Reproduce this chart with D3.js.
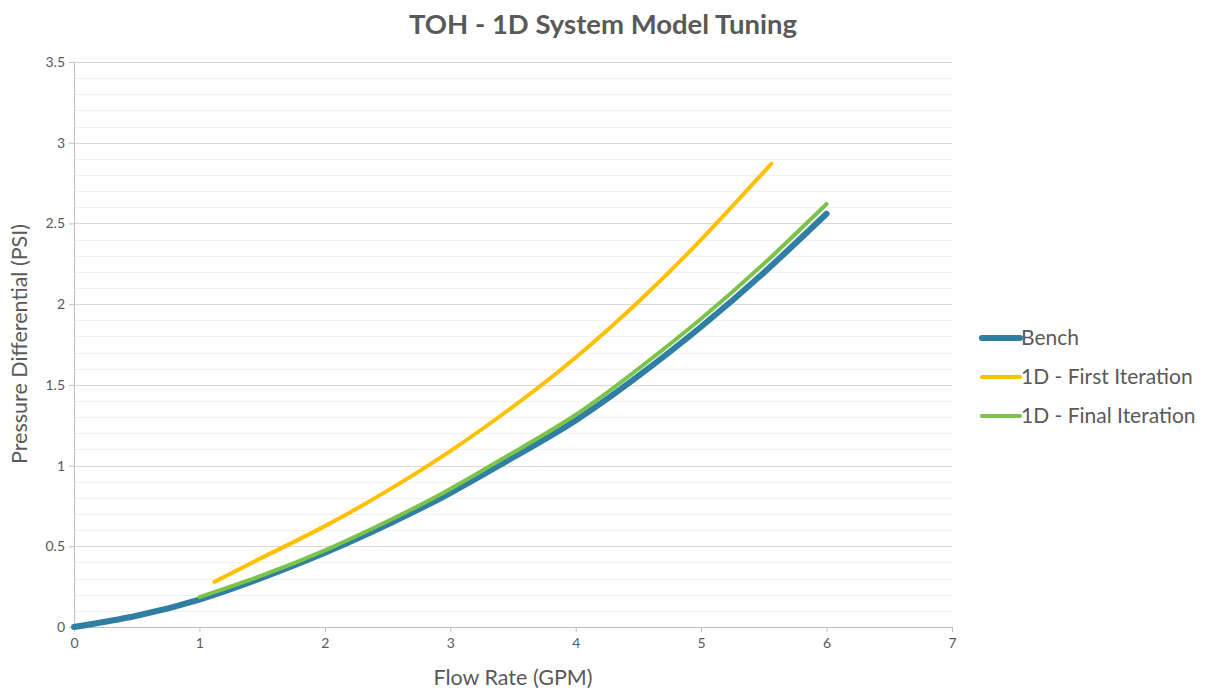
<!DOCTYPE html>
<html>
<head>
<meta charset="utf-8">
<script src="https://cdn.jsdelivr.net/npm/d3@7"></script>
<style>
  body { margin: 0; background: #fff; }
  text { font-family: Lato, "Open Sans", sans-serif; fill: #595959; }
</style>
</head>
<body>
<svg class="chart" width="1213" height="692"></svg>
<script>
const width = 1213;
const height = 692;
const margin = { top: 62, right: 261, bottom: 65, left: 74 };
const graphWidth = width - margin.left - margin.right;
const graphHeight = height - margin.top - margin.bottom;

// values
const benchX = [0, 0.5, 1, 1.5, 2, 2.5, 3, 3.5, 4, 4.5, 5, 5.5, 6];
const benchY = [0, 0.07, 0.17, 0.305, 0.46, 0.635, 0.83, 1.05, 1.28, 1.555, 1.86, 2.195, 2.56];

const firstX = [1.12, 1.5, 2, 2.5, 3, 3.5, 4, 4.5, 5, 5.56];
const firstY = [0.28, 0.43, 0.625, 0.845, 1.09, 1.365, 1.67, 2.015, 2.4, 2.87];

const finalX = [1, 1.5, 2, 2.5, 3, 3.5, 4, 4.5, 5, 5.5, 6];
const finalY = [0.185, 0.32, 0.475, 0.655, 0.855, 1.08, 1.315, 1.6, 1.91, 2.25, 2.62];

const xTicks = [0, 1, 2, 3, 4, 5, 6, 7];
const yTicks = [0, 0.5, 1, 1.5, 2, 2.5, 3, 3.5];

const series = [
  { name: "Bench", xs: benchX, ys: benchY, color: "#2f7ea3", width: 6 },
  { name: "1D - First Iteration", xs: firstX, ys: firstY, color: "#ffc000", width: 4 },
  { name: "1D - Final Iteration", xs: finalX, ys: finalY, color: "#7dc34a", width: 4 }
];

const svg = d3.select(".chart");

const xScale = d3.scaleLinear().domain([0, 7]).range([0, graphWidth]);
const yScale = d3.scaleLinear().domain([0, 3.5]).range([graphHeight, 0]);

const graph = svg.append("g")
  .attr("transform", `translate(${margin.left}, ${margin.top})`);

// minor grid
graph.append("g")
  .selectAll("line")
  .data(d3.range(0, 35).map(i => i / 10))
  .enter()
  .append("line")
  .attr("x1", 0)
  .attr("x2", graphWidth)
  .attr("y1", d => Math.round(yScale(d)) + 0.5)
  .attr("y2", d => Math.round(yScale(d)) + 0.5)
  .attr("stroke", "#f2f2f2");

// major grid
graph.append("g")
  .selectAll("line")
  .data(yTicks.slice(1))
  .enter()
  .append("line")
  .attr("x1", 0)
  .attr("x2", graphWidth)
  .attr("y1", d => Math.round(yScale(d)) + 0.5)
  .attr("y2", d => Math.round(yScale(d)) + 0.5)
  .attr("stroke", "#d9d9d9");

const xAxisG = graph.append("g")
  .attr("transform", `translate(0, ${graphHeight})`)
  .call(d3.axisBottom(xScale).tickValues(xTicks).tickSize(5).tickPadding(6).tickFormat(d3.format("d")));

const yAxisG = graph.append("g")
  .call(d3.axisLeft(yScale).tickValues(yTicks).tickSize(5).tickPadding(4).tickFormat(d => d));

[xAxisG, yAxisG].forEach(g => {
  g.selectAll(".domain").attr("stroke", "#bfbfbf");
  g.selectAll(".tick line").attr("stroke", "#bfbfbf");
  g.selectAll(".tick text")
    .style("font-family", "Lato, 'Open Sans', sans-serif")
    .style("font-size", "14px")
    .attr("fill", "#595959");
});

const line = d3.line()
  .x(d => xScale(d[0]))
  .y(d => yScale(d[1]))
  .curve(d3.curveNatural);

graph.selectAll(".series")
  .data(series)
  .enter()
  .append("path")
  .attr("class", "series")
  .attr("d", s => line(s.xs.map((x, i) => [x, s.ys[i]])))
  .attr("fill", "none")
  .attr("stroke", s => s.color)
  .attr("stroke-width", s => s.width)
  .attr("stroke-linecap", "round");

// title
svg.append("text")
  .text("TOH - 1D System Model Tuning")
  .attr("x", 603)
  .attr("y", 34)
  .attr("text-anchor", "middle")
  .style("font-size", "27.5px")
  .style("font-weight", "bold");

svg.append("text")
  .text("Flow Rate (GPM)")
  .attr("x", 513)
  .attr("y", 685)
  .attr("text-anchor", "middle")
  .style("font-size", "21.5px");

svg.append("text")
  .text("Pressure Differential (PSI)")
  .attr("transform", `translate(27, 344) rotate(-90)`)
  .attr("text-anchor", "middle")
  .style("font-size", "21.5px");

// legend
const legend = svg.append("g")
  .selectAll("g")
  .data(series)
  .enter()
  .append("g")
  .attr("transform", (d, i) => `translate(982, ${338 + i * 39})`);

legend.append("line")
  .attr("x1", 0)
  .attr("x2", 38)
  .attr("stroke", d => d.color)
  .attr("stroke-width", d => d.width)
  .attr("stroke-linecap", "round");

legend.append("text")
  .text(d => d.name)
  .attr("x", 39)
  .attr("dy", "0.35em")
  .style("font-size", "21px");
</script>
</body>
</html>
